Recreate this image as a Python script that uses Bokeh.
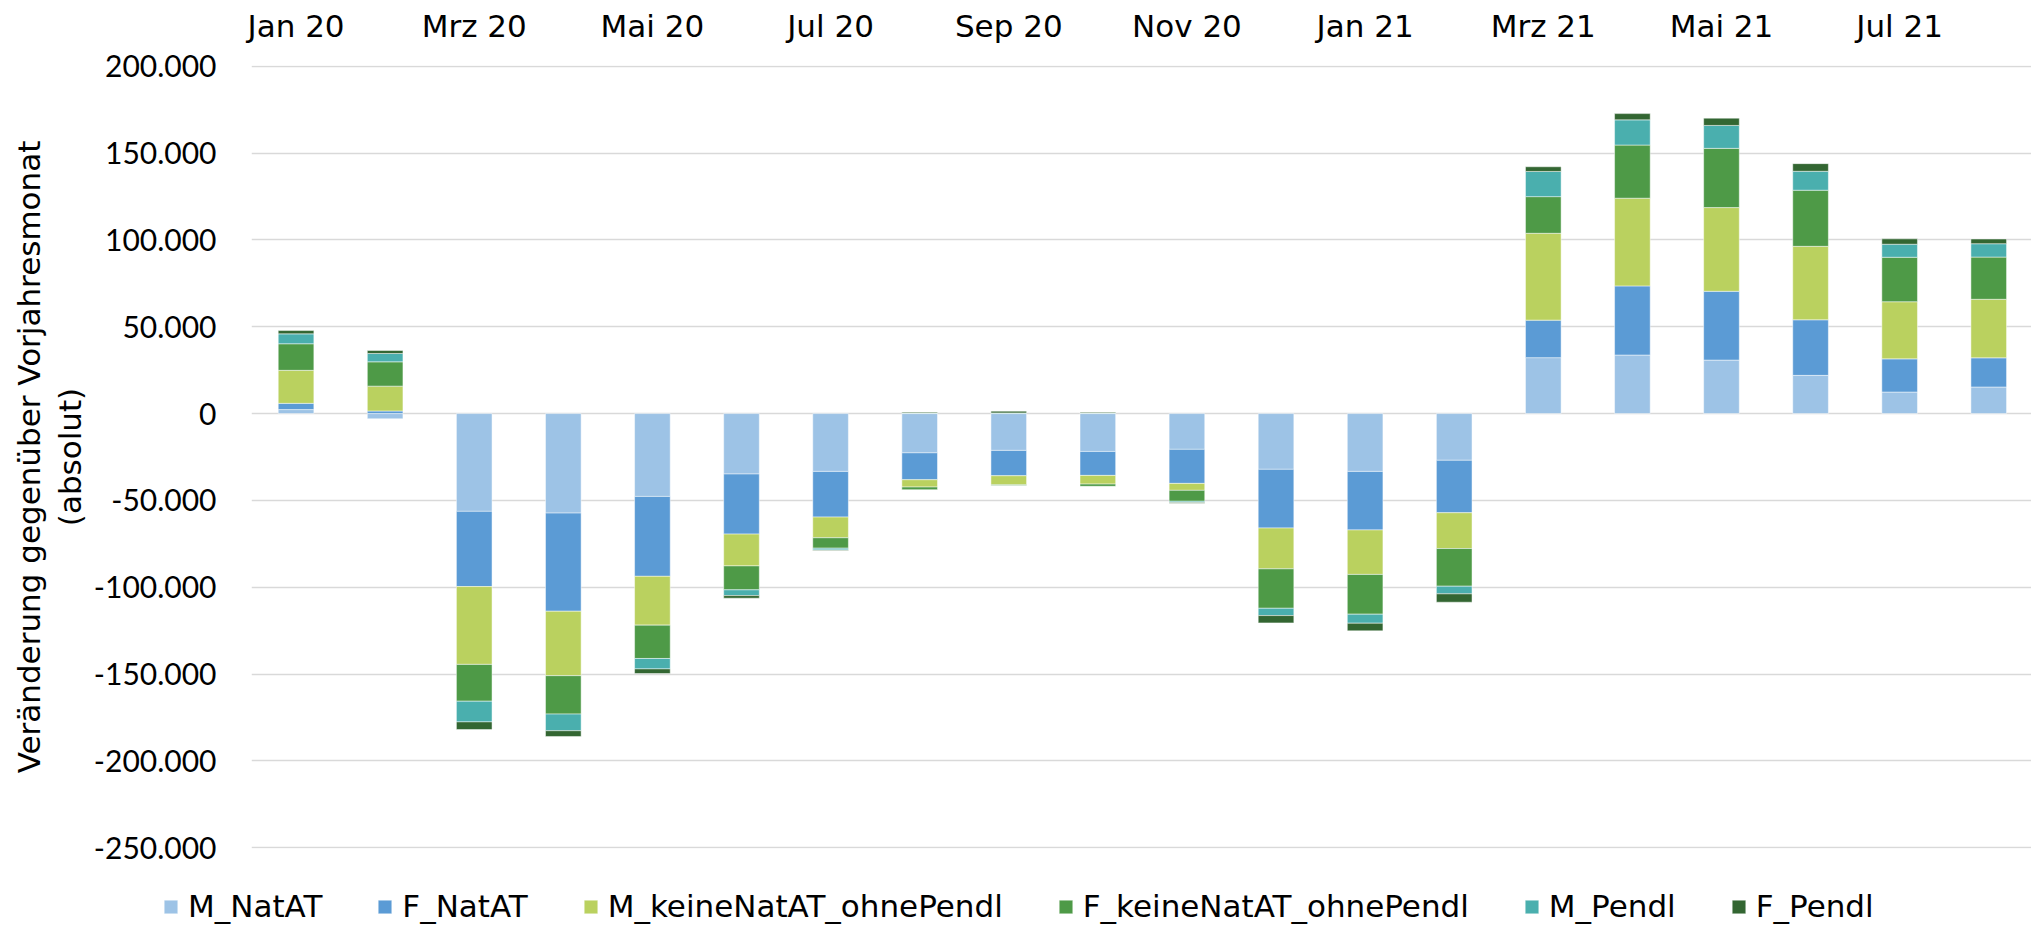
import numpy as np
from bokeh.plotting import figure
from bokeh.layouts import column
from bokeh.models import (ColumnDataSource, Range1d, FixedTicker, Legend,
                          LegendItem, Title)
from bokeh.embed import file_html
from bokeh.resources import INLINE

# ---------------- data ----------------
months = ["Jan 20", "Feb 20", "Mrz 20", "Apr 20", "Mai 20", "Jun 20", "Jul 20",
          "Aug 20", "Sep 20", "Okt 20", "Nov 20", "Dez 20", "Jan 21", "Feb 21",
          "Mrz 21", "Apr 21", "Mai 21", "Jun 21", "Jul 21", "Aug 21"]

series_names = ["M_NatAT", "F_NatAT", "M_keineNatAT_ohnePendl",
                "F_keineNatAT_ohnePendl", "M_Pendl", "F_Pendl"]

m_natat = [2300, -3000, -56300, -57300, -47700, -34800, -33300, -22600, -21200,
           -21800, -20600, -32100, -33300, -26900, 32200, 33700, 30800, 22000,
           12400, 15300]
f_natat = [3600, 1500, -43300, -56500, -46000, -34600, -26300, -15500, -14600,
           -13800, -19600, -33800, -33700, -30200, 21600, 39800, 39600, 32000,
           19100, 16800]
m_keine = [19000, 14300, -44800, -37100, -28100, -18300, -11900, -4200, -5200,
           -5000, -4000, -23500, -25600, -20600, 50000, 50500, 48200, 42300,
           32900, 33700]
f_keine = [15300, 14000, -21200, -22100, -19200, -13800, -6000, -1500, -400,
           -1300, -6300, -22700, -22900, -21700, 21100, 30600, 34100, 32300,
           25600, 24300]
m_pendl = [5700, 4800, -11900, -9600, -6000, -3300, -1000, 300, 400, 300,
           -700, -4200, -5200, -4400, 14500, 14500, 13200, 10900, 7500, 7700]
f_pendl = [1900, 1700, -4400, -3300, -2700, -1500, -300, 500, 1000, 400,
           -400, -4200, -4400, -4800, 2700, 3600, 4200, 4400, 3100, 2700]

series_values = [m_natat, f_natat, m_keine, f_keine, m_pendl, f_pendl]
colors = ["#9DC3E6", "#5B9BD5", "#BAD15F", "#4E9A47", "#4AAFAE", "#336632"]

y_ticks = [-250000, -200000, -150000, -100000, -50000, 0,
           50000, 100000, 150000, 200000]
y_tick_labels = ["-250.000", "-200.000", "-150.000", "-100.000", "-50.000", "0",
                 "50.000", "100.000", "150.000", "200.000"]

y_title_1 = "Veränderung gegenüber Vorjahresmonat"
y_title_2 = "(absolut)"

# ---------------- main figure ----------------
TEXT_FONT = "DejaVu Sans"
NUM_FONT = "Lato"

p = figure(width=2031, height=870,
           x_range=Range1d(-0.5, 19.48), y_range=Range1d(-250400, 200400),
           x_axis_location="above", output_backend="svg",
           toolbar_location=None, title=None,
           min_border_left=251, min_border_top=65, min_border_right=0,
           min_border_bottom=22)
p.frame_align = False
p.outline_line_color = None
p.background_fill_color = "white"
p.border_fill_color = "white"

x = np.arange(len(months))
pos_base = np.zeros(len(months))
neg_base = np.zeros(len(months))
sources = []
for name, vals, col in zip(series_names, series_values, colors):
    v = np.array(vals, dtype=float)
    bottom = np.where(v >= 0, pos_base, neg_base)
    top = bottom + v
    pos_base = np.where(v >= 0, top, pos_base)
    neg_base = np.where(v < 0, top, neg_base)
    src = ColumnDataSource(dict(x=x, bottom=bottom, top=top))
    sources.append(src)
    p.vbar(x="x", bottom="bottom", top="top", width=0.4, source=src,
           fill_color=col, line_color="white", line_width=0.8, line_alpha=0.6)

xa = p.xaxis[0]
xa.ticker = FixedTicker(ticks=list(range(0, len(months), 2)))
xa.major_label_overrides = {i: months[i] for i in range(0, len(months), 2)}
xa.axis_line_color = None
xa.major_tick_line_color = None
xa.minor_tick_line_color = None
xa.major_label_text_font = TEXT_FONT
xa.major_label_text_font_size = "31px"
xa.major_label_text_color = "black"
xa.major_label_standoff = 16

ya = p.yaxis[0]
ya.ticker = FixedTicker(ticks=y_ticks)
ya.major_label_overrides = {t: l for t, l in zip(y_ticks, y_tick_labels)}
ya.axis_line_color = None
ya.major_tick_line_color = None
ya.minor_tick_line_color = None
ya.major_label_text_font = NUM_FONT
ya.major_label_text_font_size = "30px"
ya.major_label_text_color = "black"
ya.major_label_standoff = 29

p.xgrid.grid_line_color = None
p.ygrid.grid_line_color = "#d9d9d9"
p.ygrid.grid_line_width = 1.6

for txt, so in ((y_title_2, 6), (y_title_1, 0)):
    t = Title(text=txt, align="center", text_font=TEXT_FONT,
              text_font_size="31px", text_font_style="normal",
              text_color="black", standoff=so)
    p.add_layout(t, "left")

# ---------------- legend strip ----------------
lf = figure(width=2031, height=55, x_range=Range1d(0, 1), y_range=Range1d(0, 1),
            x_axis_location=None, y_axis_location=None,
            output_backend="svg", toolbar_location=None, title=None,
            min_border=0, min_border_left=0, min_border_right=0,
            min_border_top=0, min_border_bottom=0)
lf.frame_align = False
lf.grid.visible = False
lf.outline_line_color = None

items = []
for name, col, src in zip(series_names, colors, sources):
    r = lf.vbar(x="x", bottom="bottom", top="top", width=0.4, source=src,
                fill_color=col, line_color="white", line_width=0.8,
                line_alpha=0.6, visible=False)
    items.append(LegendItem(label=name, renderers=[r]))

legend = Legend(items=items, orientation="horizontal",
                location=(162, 1),
                glyph_width=17, glyph_height=17, label_standoff=9, spacing=54,
                padding=0, margin=0, border_line_color=None,
                background_fill_alpha=0, inactive_fill_alpha=0,
                label_text_font=TEXT_FONT, label_text_font_size="31px",
                label_text_color="black")
lf.add_layout(legend, "center")

layout = column(p, lf, spacing=0)
open("out.html", "w").write(file_html(layout, INLINE))
